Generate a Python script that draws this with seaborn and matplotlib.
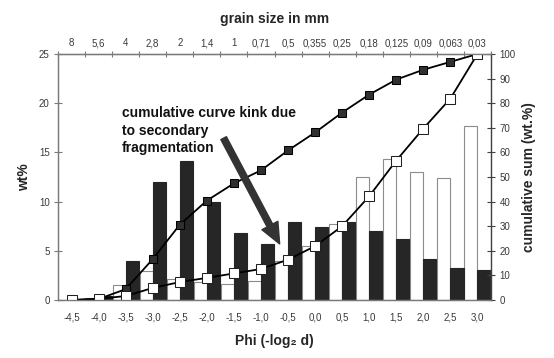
import numpy as np
import pandas as pd
import matplotlib
matplotlib.use('Agg')
import matplotlib.pyplot as plt
import seaborn as sns

# --- Data ---
phi_labels = ['-4,5', '-4,0', '-3,5', '-3,0', '-2,5', '-2,0', '-1,5', '-1,0',
              '-0,5', '0,0', '0,5', '1,0', '1,5', '2,0', '2,5', '3,0']
grain_mm = ['8', '5,6', '4', '2,8', '2', '1,4', '1', '0,71', '0,5', '0,355',
            '0,25', '0,18', '0,125', '0,09', '0,063', '0,03']

# wt% per class (left axis)
wt_white = [0, 0.2, 1.5, 2.9, 2.1, 1.8, 1.6, 1.9, 4.0, 5.5, 7.7, 12.5, 14.3, 13.0, 12.4, 17.7]
wt_black = [0, 0.4, 4.0, 12.0, 14.1, 10.0, 6.8, 5.7, 7.9, 7.4, 7.9, 7.0, 6.2, 4.2, 3.25, 3.05]

# cumulative sums (right axis)
cum_white = [0, 0.5, 1.6, 4.9, 7.3, 9.0, 10.8, 12.6, 16.4, 21.9, 30.0, 42.2, 56.7, 69.7, 81.9, 100]
cum_black = [0, 0.4, 4.4, 16.6, 30.6, 40.4, 47.4, 52.7, 60.8, 68.1, 76.2, 83.5, 89.6, 93.6, 96.8, 100]

sns.set_style('white')
plt.rcParams['font.family'] = ['Liberation Sans', 'DejaVu Sans']

AXIS_GREY = '#7a7a7a'
TEXT_GREY = '#3a3a3a'

bars = pd.DataFrame({
    'phi': phi_labels * 2,
    'fraction': ['white'] * len(phi_labels) + ['black'] * len(phi_labels),
    'wt': wt_white + wt_black,
})

fig = plt.figure(figsize=(5.54, 3.58), dpi=100)
ax = fig.add_axes([58 / 554, 58 / 358, 433 / 554, 246 / 358])

sns.barplot(data=bars, x='phi', y='wt', hue='fraction', order=phi_labels,
            hue_order=['white', 'black'],
            palette={'white': 'white', 'black': '#262626'},
            saturation=1, width=0.97, errorbar=None, legend=False,
            linewidth=0.8, ax=ax)
for p in ax.containers[0]:
    p.set_edgecolor('#8c8c8c')
for p in ax.containers[1]:
    p.set_edgecolor('#262626')

ax.set_ylim(0, 25)
ax.set_yticks(np.arange(0, 26, 5))
ax.set_xticks(range(len(phi_labels)), labels=phi_labels)
ax.set_xticks(np.arange(-0.5, len(phi_labels), 1), minor=True)
ax.tick_params(axis='x', which='major', length=0, pad=9, labelsize=7, labelcolor=TEXT_GREY)
ax.tick_params(axis='x', which='minor', direction='inout', length=5, width=0.8, color=AXIS_GREY)
ax.tick_params(axis='y', direction='inout', length=6, width=0.8, color=AXIS_GREY,
               pad=3, labelsize=7, labelcolor=TEXT_GREY, left=True)
ax.set_xlabel('Phi (-log\u2082 d)', fontsize=10, fontweight='bold', labelpad=8)
ax.set_ylabel('wt%', fontsize=10, fontweight='bold', labelpad=6)
for side, sp in ax.spines.items():
    sp.set_color(AXIS_GREY)
    sp.set_linewidth(0.9)

# cumulative curves on the right axis
ax2 = ax.twinx()
xpos = np.arange(len(phi_labels))
sns.lineplot(x=xpos, y=cum_black, marker='s', color='black', linewidth=1.3,
             markersize=6, markerfacecolor='#303030', markeredgecolor='black', ax=ax2)
sns.lineplot(x=xpos, y=cum_white, marker='s', color='black', linewidth=1.3,
             markersize=6.5, markerfacecolor='white', markeredgecolor='#202020', ax=ax2)
ax2.set_ylim(0, 100)
ax2.set_yticks(np.arange(0, 101, 10))
ax2.tick_params(axis='y', direction='inout', length=6, width=0.8, color='#404040',
                pad=3, labelsize=7, labelcolor=TEXT_GREY, right=True)
ax2.set_ylabel('cumulative sum (wt.%)', fontsize=10, fontweight='bold', labelpad=5)
for side, sp in ax2.spines.items():
    sp.set_color(AXIS_GREY)
    sp.set_linewidth(0.9)
ax2.spines['right'].set_color('#404040')
ax.set_xlim(-0.5, len(phi_labels) - 0.5)

# top axis: grain size in mm
top = ax.secondary_xaxis('top')
top.set_xticks(range(len(grain_mm)), labels=grain_mm)
top.set_xticks(np.arange(-0.5, len(grain_mm), 1), minor=True)
top.tick_params(axis='x', which='major', length=0, pad=4, labelsize=7, labelcolor=TEXT_GREY)
top.tick_params(axis='x', which='minor', direction='inout', length=5, width=0.8, color=AXIS_GREY)
top.spines['top'].set_color(AXIS_GREY)
top.set_xlabel('grain size in mm', fontsize=10, fontweight='bold', labelpad=11)

# annotation
ax2.text(1.85, 79, 'cumulative curve kink due\nto secondary\nfragmentation',
         fontsize=10, fontweight='bold', va='top', ha='left', linespacing=1.35,
         color='#111111')
ax2.annotate('', xy=(7.69, 22.8), xytext=(5.62, 65.8),
             arrowprops=dict(facecolor='#333333', edgecolor='#333333',
                             width=4.5, headwidth=13, headlength=15, shrink=0))

fig.savefig('out.png', dpi=100)
